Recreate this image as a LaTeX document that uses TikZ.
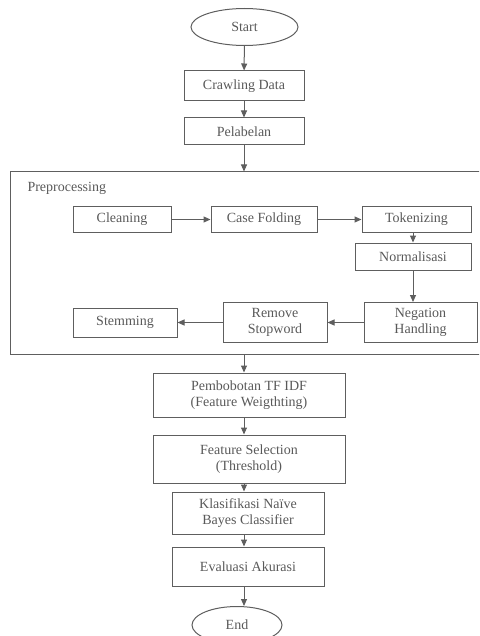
\documentclass[tikz,border=0pt]{standalone}
\usepackage{fontspec}
\setmainfont{Liberation Serif}
\usetikzlibrary{shapes.geometric, arrows.meta}
\definecolor{linegray}{HTML}{5E5E5E}
\definecolor{textgray}{HTML}{595959}

\begin{document}
\begin{tikzpicture}[x=1pt, y=-1pt,
  box/.style={draw=linegray, line width=1pt, align=center, text=textgray, inner sep=1pt},
  term/.style={ellipse, draw=linegray, line width=1pt, text=textgray, inner sep=0pt},
  arrow/.style={-{Triangle[length=7pt,width=6pt]}, draw=linegray, line width=1pt},
  font=\fontsize{14}{16}\selectfont]
  \useasboundingbox (0,0) rectangle (479,636);
  \clip (0,0) rectangle (479,636);
  % start and first steps
  \node[term, minimum width=107pt, minimum height=37pt] (start) at (244.5,27) {Start};
  \node[box, minimum width=120pt, minimum height=30pt] (crawl) at (244,86) {Crawling Data};
  \node[box, minimum width=120pt, minimum height=27pt] (label) at (244,131.5) {Pelabelan};
  % preprocessing group
  \node[box, minimum width=480pt, minimum height=182pt] (prep) at (250,263) {};
  \node[text=textgray, right] (preptitle) at (24,188) {Preprocessing};
  \node[box, minimum width=98pt, minimum height=25pt] (clean) at (122,219.5) {Cleaning};
  \node[box, minimum width=106pt, minimum height=25pt] (fold) at (264,219.5) {Case Folding};
  \node[box, minimum width=109pt, minimum height=25pt] (token) at (416.5,219.5) {Tokenizing};
  \node[box, minimum width=116pt, minimum height=27pt] (norm) at (413,256.5) {Normalisasi};
  \node[box, minimum width=113pt, minimum height=40pt] (neg) at (420.5,322.5) {Negation\\Handling};
  \node[box, minimum width=104pt, minimum height=40pt] (stop) at (275,322.5) {Remove\\Stopword};
  \node[box, minimum width=104pt, minimum height=29pt] (stem) at (125,322.5) {Stemming};
  % weighting, selection, classification
  \node[box, minimum width=192pt, minimum height=44pt] (tfidf) at (249,395) {Pembobotan TF IDF\\(Feature Weigthting)};
  \node[box, minimum width=192pt, minimum height=48pt] (select) at (249,459) {Feature Selection\\(Threshold)};
  \node[box, minimum width=152pt, minimum height=42pt] (nb) at (248,513) {Klasifikasi Naïve\\Bayes Classifier};
  \node[box, minimum width=152pt, minimum height=39pt] (eval) at (248,566.5) {Evaluasi Akurasi};
  \node[term, minimum width=90pt, minimum height=37pt] (end) at (237,625) {End};
  % arrows
  \foreach \a/\b in {start/crawl, crawl/label}
    \draw[arrow] (\a) -- (\b);
  \draw[arrow] (label) -- (label |- prep.north);
  \draw[arrow] (clean) -- (fold);
  \draw[arrow] (fold) -- (token);
  \draw[arrow] (token.south -| norm) -- (norm);
  \draw[arrow] (norm) -- (neg.north -| norm);
  \draw[arrow] (neg) -- (stop);
  \draw[arrow] (stop) -- (stem);
  \draw[arrow] (prep.south -| label) -- (tfidf.north -| label);
  \foreach \a/\b in {tfidf/select, select/nb, nb/eval, eval/end}
    \draw[arrow] (\a.south -| label) -- (\b.north -| label);
\end{tikzpicture}
\end{document}
